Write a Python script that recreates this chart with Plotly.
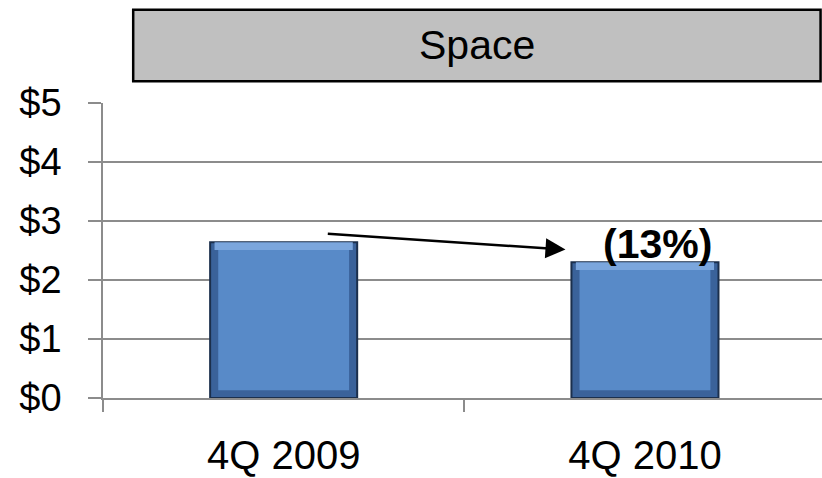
import plotly.graph_objects as go

# Quarterly values (in $)
categories = ["4Q 2009", "4Q 2010"]
values = [2.64, 2.30]
y_ticks = [0, 1, 2, 3, 4, 5]
y_tick_labels = [f"${v}" for v in y_ticks]
title_text = "Space"

change_pct = round((values[1] / values[0] - 1) * 100)
change_label = f"({abs(change_pct)}%)" if change_pct < 0 else f"{change_pct}%"

FONT = "Liberation Sans, Arial, sans-serif"
BAR_W = 0.407
BEVEL = 0.13  # bevel thickness in value units

fig = go.Figure()

# outer (dark edge) bar
fig.add_trace(go.Bar(
    x=categories, y=values, width=BAR_W,
    marker=dict(color="#3A629A", line=dict(color="#1B2F4C", width=2)),
    hoverinfo="skip", showlegend=False,
))
# top highlight strip
fig.add_trace(go.Bar(
    x=categories, y=[BEVEL] * len(values), base=[v - BEVEL for v in values],
    width=BAR_W * 0.94,
    marker=dict(color="#7BA6DD", line=dict(width=0)),
    hoverinfo="skip", showlegend=False,
))
# main face
fig.add_trace(go.Bar(
    x=categories, y=[v - 2 * BEVEL for v in values], base=[BEVEL] * len(values),
    width=BAR_W * 0.89,
    marker=dict(color="#588AC8", line=dict(width=0)),
    hoverinfo="skip", showlegend=False,
))

fig.update_layout(
    width=822, height=478,
    margin=dict(l=103, r=0, t=103, b=80),
    paper_bgcolor="white", plot_bgcolor="white",
    barmode="overlay",
    font=dict(family=FONT, color="black"),
    showlegend=False,
)

fig.update_xaxes(
    type="category", range=[-0.5, 1.49],
    showline=True, linecolor="#8C8C8C", linewidth=1.5,
    ticks="outside", tickson="boundaries", ticklen=12, tickcolor="#8C8C8C", tickwidth=1.5,
    tickfont=dict(size=40, family=FONT, color="black"),
    ticklabelstandoff=21,
    showgrid=False,
)
fig.update_yaxes(
    range=[0, 5], tickmode="array", tickvals=y_ticks, ticktext=y_tick_labels,
    showline=True, linecolor="#8C8C8C", linewidth=1.5,
    ticks="outside", ticklen=13, tickcolor="#8C8C8C", tickwidth=1.5,
    showgrid=True, gridcolor="#8C8C8C", gridwidth=1.5,
    tickfont=dict(size=38, family=FONT, color="black"),
    ticklabelstandoff=19,
    zeroline=False,
)

# title box
fig.add_shape(
    type="rect", xref="paper", yref="paper",
    x0=0.042, x1=0.998, y0=1.074, y1=1.316,
    fillcolor="#C0C0C0", line=dict(color="black", width=2.5),
    layer="above",
)
fig.add_annotation(
    xref="paper", yref="paper", x=0.52, y=1.195,
    text=title_text, showarrow=False,
    font=dict(size=41, family=FONT, color="black"),
    xanchor="center", yanchor="middle",
)

# change arrow between the two quarters
fig.add_annotation(
    x=0.78, y=2.515, ax=0.118, ay=2.786,
    xref="x", yref="y", axref="x", ayref="y",
    text="", showarrow=True,
    arrowhead=2, arrowsize=1.6, arrowwidth=2.5, arrowcolor="black",
)
fig.add_annotation(
    x=categories[1], y=values[1], xref="x", yref="y",
    text=f"<b>{change_label}</b>", showarrow=False,
    font=dict(size=41, family=FONT, color="black"),
    xanchor="center", yanchor="middle", xshift=13, yshift=18,
)

fig.write_html("out.html")
